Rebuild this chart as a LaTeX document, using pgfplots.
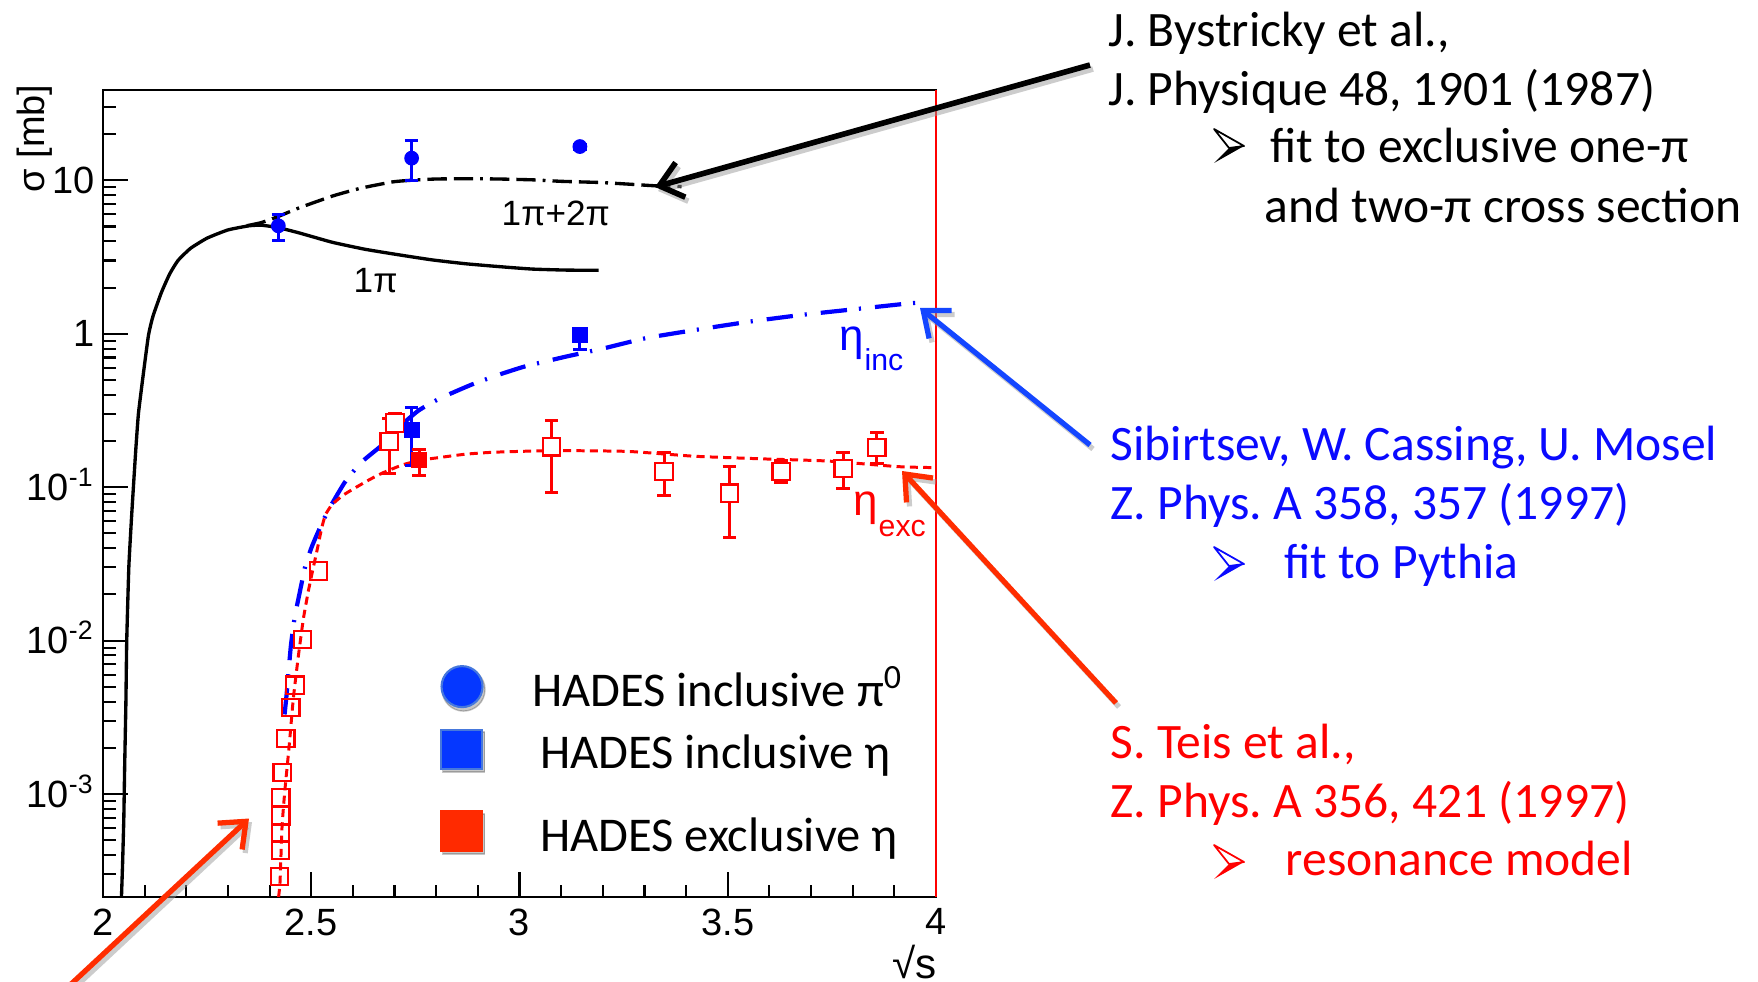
\documentclass[border=0pt]{standalone}
\usepackage{pgfplots}
\pgfplotsset{compat=1.18}
\usepackage{pgfplotstable}
\usetikzlibrary{arrows.meta}
\usepackage{fontspec}
\setmainfont{Carlito}
\newfontfamily\rootfont{Liberation Sans}
\frenchspacing

\definecolor{rootblue}{RGB}{0,0,255}
\definecolor{rootred}{RGB}{255,0,0}
\definecolor{txtblue}{RGB}{10,10,255}
\definecolor{txtred}{RGB}{255,0,0}
\definecolor{arrred}{RGB}{255,45,0}
\definecolor{arrblue}{RGB}{20,70,255}
\definecolor{legblue}{RGB}{5,55,255}
\definecolor{legblueedge}{RGB}{70,120,220}
\definecolor{legred}{RGB}{255,42,0}

\newcommand\rf{\rootfont\fontsize{10.8}{12}\selectfont}
\newcommand\slide{\fontsize{14.1}{17}\selectfont}

% HADES exclusive eta (open squares with error bars)
\pgfplotstableread{
x     y       ep     em
2.687 0.198   0.081  0.075
2.701 0.262   0.040  0.030
3.077 0.183   0.090  0.091
3.347 0.126   0.043  0.038
3.504 0.0914  0.045  0.0445
3.628 0.127   0.023  0.019
3.777 0.132   0.037  0.034
3.858 0.181   0.047  0.038
}\exclopen

% near-threshold pp -> pp eta points
\pgfplotstableread{
x     y
2.517 0.0284
2.479 0.0102
2.461 0.00512
2.451 0.00367
2.439 0.00230
2.430 0.00138
2.427 0.00095
2.427 0.00072
2.426 0.00056
2.426 0.00043
2.424 0.00029
}\threshold

% HADES inclusive pi0
\pgfplotstableread{
x     y      ep    em
2.421 5.05   0.93  0.99
2.741 13.95  4.25  4.02
3.145 16.6   0.6   0.6
}\pizero

% HADES inclusive eta
\pgfplotstableread{
x     y      ep     em
2.741 0.235  0.094  0.097
3.145 0.985  0.03   0.198
}\etainc

% HADES exclusive eta (filled)
\pgfplotstableread{
x     y      ep     em
2.759 0.150  0.026  0.031
}\etaexc

\begin{document}
\begin{tikzpicture}
\useasboundingbox (0,0) rectangle (175.8mm,-98.2mm);

\begin{axis}[
  at={(10.3mm,-89.7mm)}, anchor=south west,
  scale only axis, width=83.3mm, height=80.7mm,
  ymode=log, xmin=2, xmax=4, ymin=2.13e-4, ymax=38.8,
  axis line style={line width=0.7pt},
  tick align=inside, xtick pos=left, ytick pos=left,
  major tick length=2.5mm, minor tick length=1.25mm,
  tick style={black, line width=0.6pt},
  xtick={2,2.5,3,3.5,4}, xticklabels={2,2.5,3,3.5,4},
  minor xtick={2.1,2.2,2.3,2.4,2.6,2.7,2.8,2.9,3.1,3.2,3.3,3.4,3.6,3.7,3.8,3.9},
  ytick={1e-3,1e-2,1e-1,1,10},
  yticklabels={10\smash{\textsuperscript{-3}},10\smash{\textsuperscript{-2}},10\smash{\textsuperscript{-1}},1,10},
  minor ytick={3e-4,4e-4,5e-4,6e-4,7e-4,8e-4,9e-4,
    2e-3,3e-3,4e-3,5e-3,6e-3,7e-3,8e-3,9e-3,
    2e-2,3e-2,4e-2,5e-2,6e-2,7e-2,8e-2,9e-2,
    0.2,0.3,0.4,0.5,0.6,0.7,0.8,0.9,
    2,3,4,5,6,7,8,9,20,30},
  ticklabel style={font=\rf},
  xticklabel style={anchor=north, inner sep=0pt, yshift=-1.1mm},
  yticklabel style={anchor=east, inner sep=0pt, xshift=-0.8mm},
  legend style={draw=none, fill=none, inner sep=0pt, outer sep=0pt,
    at={(0.4058,0.2860)}, anchor=north west,
    row sep=0.6mm, column sep=5.7mm,
    cells={anchor=base west},
    nodes={inner sep=0pt, anchor=base west, font=\fontsize{13.8}{16.6}\selectfont}},
]

% error bars of the open squares, hidden inside the box
\addplot[forget plot, only marks, rootred, mark=square*, mark size=2.45pt,
  mark options={fill=white, draw=white},
  error bars/.cd, y dir=both, y explicit,
  error bar style={line width=0.85pt},
  error mark options={rotate=90, mark size=1.9pt, line width=0.85pt}]
  table[x=x, y=y, y error plus=ep, y error minus=em] {\exclopen};

% 1pi fit (Bystricky)
\addplot[forget plot, black, line width=0.95pt, smooth, tension=0.3] coordinates {
(2.044,2.0e-4) (2.047,3.5e-4) (2.050,7e-4) (2.052,1.5e-3) (2.055,4e-3)
(2.057,1e-2) (2.062,0.03) (2.068,0.06) (2.073,0.1) (2.079,0.18) (2.085,0.3)
(2.095,0.5) (2.109,0.97) (2.12,1.3) (2.14,1.85) (2.16,2.45) (2.18,3.0)
(2.21,3.6) (2.25,4.2) (2.30,4.75) (2.35,5.05) (2.38,5.1) (2.42,4.92)
(2.47,4.55) (2.55,3.95) (2.63,3.55) (2.71,3.27) (2.79,3.03) (2.87,2.86)
(2.95,2.74) (3.03,2.64) (3.11,2.6) (3.19,2.59)};

% 1pi + 2pi fit (Bystricky)
\addplot[forget plot, black, line width=0.95pt, smooth, tension=0.3,
  dash pattern=on 5.5pt off 2pt on 5.5pt off 2pt on 0.8pt off 2pt] coordinates {
(2.345,5.06) (2.38,5.3) (2.42,5.8) (2.47,6.6) (2.553,7.93) (2.62,8.9)
(2.697,9.78) (2.75,10.05) (2.80,10.2) (2.873,10.25) (2.95,10.2) (3.033,10.07)
(3.10,9.85) (3.193,9.68) (3.26,9.45) (3.329,9.2) (3.389,9.1)};

% inclusive eta (Sibirtsev, Cassing, Mosel)
\addplot[forget plot, rootblue, line width=1.2pt, smooth, tension=0.3,
  dash pattern=on 7.5pt off 3.4pt on 0.6pt off 4pt] coordinates {
(2.436,0.0033) (2.441,0.0045) (2.446,0.0065) (2.451,0.0092) (2.458,0.013)
(2.466,0.017) (2.473,0.021) (2.485,0.030) (2.50,0.040) (2.515,0.050)
(2.54,0.070) (2.58,0.107) (2.62,0.145) (2.672,0.19) (2.70,0.232)
(2.757,0.315) (2.81,0.38) (2.885,0.466) (2.95,0.54) (3.013,0.612)
(3.113,0.711) (3.2,0.8) (3.305,0.938) (3.433,1.07) (3.553,1.20)
(3.681,1.33) (3.81,1.45) (3.938,1.58) (3.97,1.60)};

% exclusive eta (Teis et al.)
\addplot[forget plot, rootred, line width=0.85pt, smooth, tension=0.3,
  dash pattern=on 2.3pt off 1.5pt] coordinates {
(2.4216,2.13e-4) (2.425,2.65e-4) (2.430,6.2e-4) (2.437,1.08e-3) (2.447,2.06e-3)
(2.457,4.2e-3) (2.469,7.9e-3) (2.481,0.0138) (2.493,0.0210) (2.505,0.030)
(2.515,0.040) (2.525,0.054) (2.534,0.066) (2.55,0.077) (2.575,0.088)
(2.6,0.097) (2.64,0.112) (2.672,0.124) (2.72,0.14) (2.763,0.150) (2.80,0.155)
(2.87,0.164) (2.94,0.169) (3.08,0.173) (3.26,0.171) (3.42,0.159) (3.58,0.153)
(3.74,0.148) (3.91,0.136) (4.0,0.134)};

% open squares
\addplot[forget plot, only marks, rootred, mark=square, mark size=2.45pt,
  mark options={line width=0.6pt}] table[x=x, y=y] {\exclopen};
\addplot[forget plot, only marks, rootred, mark=square, mark size=2.45pt,
  mark options={line width=0.6pt}] table[x=x, y=y] {\threshold};

% HADES points
\addplot[forget plot, only marks, rootblue, mark=*, mark size=1.9pt,
  error bars/.cd, y dir=both, y explicit,
  error bar style={line width=0.85pt},
  error mark options={rotate=90, mark size=1.9pt, line width=0.85pt}]
  table[x=x, y=y, y error plus=ep, y error minus=em] {\pizero};
\addplot[forget plot, only marks, rootblue, mark=square*, mark size=2.1pt,
  error bars/.cd, y dir=both, y explicit,
  error bar style={line width=0.85pt},
  error mark options={rotate=90, mark size=1.9pt, line width=0.85pt}]
  table[x=x, y=y, y error plus=ep, y error minus=em] {\etainc};
\addplot[forget plot, only marks, rootred, mark=square*, mark size=2.1pt,
  error bars/.cd, y dir=both, y explicit,
  error bar style={line width=0.85pt},
  error mark options={rotate=90, mark size=1.9pt, line width=0.85pt}]
  table[x=x, y=y, y error plus=ep, y error minus=em] {\etaexc};

% legend
\addlegendimage{legend image code/.code={
  \fill[overlay, black, opacity=0.22] (2.25mm,1.7mm) circle (2.15mm);
  \fill[overlay, legblue, draw=legblueedge, line width=0.6pt] (2.1mm,2mm) circle (2.05mm);
  \path[draw=none, fill=none] (0mm,0mm) rectangle (4.2mm,0.1mm);}}
\addlegendentry{\rule[-1.2mm]{0pt}{4.6mm}\hspace*{-0.78mm}HADES inclusive π\textsuperscript{0}}
\addlegendimage{legend image code/.code={
  \fill[overlay, black, opacity=0.22] (0.15mm,-0.3mm) rectangle (4.35mm,3.7mm);
  \fill[overlay, legblue, draw=legblueedge, line width=0.6pt] (0mm,0mm) rectangle (4.1mm,3.9mm);
  \path[draw=none, fill=none] (0mm,0mm) rectangle (4.2mm,0.1mm);}}
\addlegendentry{\rule[-1.2mm]{0pt}{6.3mm}HADES inclusive η}
\addlegendimage{legend image code/.code={
  \fill[overlay, black, opacity=0.22] (0.15mm,-0.3mm) rectangle (4.35mm,3.7mm);
  \fill[overlay, legred] (0mm,0mm) rectangle (4.1mm,4.0mm);
  \path[draw=none, fill=none] (0mm,0mm) rectangle (4.2mm,0.1mm);}}
\addlegendentry{\rule[-1.2mm]{0pt}{8.3mm}HADES exclusive η}
\end{axis}

\begin{scope}[x=0.1mm, y=-0.1mm]
% right frame edge
\draw[rootred, line width=0.7pt] (936,90) -- (936,897);

% axis titles
\node[rotate=90, anchor=base west, inner sep=0pt, font=\rootfont\fontsize{10.8}{13}\selectfont] at (44,193) {σ [mb]};
\node[anchor=base east, inner sep=0pt, font=\rootfont\fontsize{12}{13}\selectfont] at (937,978) {√s};

% curve labels
\node[anchor=base west, inner sep=0pt, font=\rootfont\fontsize{10}{12}\selectfont] at (501,226) {1π+2π};
\node[anchor=base west, inner sep=0pt, font=\rootfont\fontsize{10}{12}\selectfont] at (353,292.7) {1π};
\node[anchor=base west, inner sep=0pt, text=rootblue, font=\rootfont\fontsize{12.5}{14}\selectfont] at (839,350) {η};
\node[anchor=base west, inner sep=0pt, text=rootblue, font=\rootfont\fontsize{8.6}{10}\selectfont] at (864,370) {inc};
\node[anchor=base west, inner sep=0pt, text=rootred, font=\rootfont\fontsize{12.5}{14}\selectfont] at (853,515) {η};
\node[anchor=base west, inner sep=0pt, text=rootred, font=\rootfont\fontsize{8.6}{10}\selectfont] at (878,536) {exc};

% arrows with soft shadows
\tikzset{barb/.style={-{Straight Barb[length=2.2mm, width=3.6mm]}}}
\draw[barb, black!40, opacity=0.5, line width=1.6pt] (1093,69) -- (658,191);
\draw[barb, black, line width=1.6pt] (1090,65) -- (655,187);
\draw[barb, black!40, opacity=0.5, line width=1.5pt] (1093,449) -- (923,312);
\draw[barb, arrblue, line width=1.5pt] (1090,445) -- (920,308);
\draw[barb, black!40, opacity=0.5, line width=1.5pt] (1119,707) -- (905,475);
\draw[barb, arrred, line width=1.5pt] (1116,703) -- (902,471);
\draw[barb, black!40, opacity=0.5, line width=1.5pt] (72,990) -- (252,822);
\draw[barb, arrred, line width=1.5pt] (69,986) -- (249,818.5);

% 3D arrowhead bullets
\newcommand\bulletarrow[3]{%
  \begin{scope}[shift={(#1,#2)}]
    \fill[#3] (0,2) -- (15,0) -- (-15,17) -- cycle;
    \draw[#3, line width=0.5pt, fill=white, line join=round] (-15,-17) -- (15,0) -- (0,2) -- cycle;
  \end{scope}}
\bulletarrow{1229}{146}{black}
\bulletarrow{1229}{564}{txtblue}
\bulletarrow{1229}{862}{txtred}

% references
\begin{scope}[every node/.style={anchor=base west, inner sep=0pt, font=\slide}]
\node at (1108,46.5) {J. Bystricky et al.,};
\node at (1108,106) {J. Physique 48, 1901 (1987)};
\node at (1270,162.5) {fit to exclusive one-π};
\node at (1264,223) {and two-π cross section};
\node[text=txtblue] at (1110,460) {Sibirtsev, W. Cassing, U. Mosel};
\node[text=txtblue] at (1110,519) {Z. Phys. A 358, 357 (1997)};
\node[text=txtblue] at (1284,578) {fit to Pythia};
\node[text=txtred] at (1110,758) {S. Teis et al.,};
\node[text=txtred] at (1110,817) {Z. Phys. A 356, 421 (1997)};
\node[text=txtred] at (1285,875) {resonance model};
\end{scope}
\end{scope}
\end{tikzpicture}
\end{document}
